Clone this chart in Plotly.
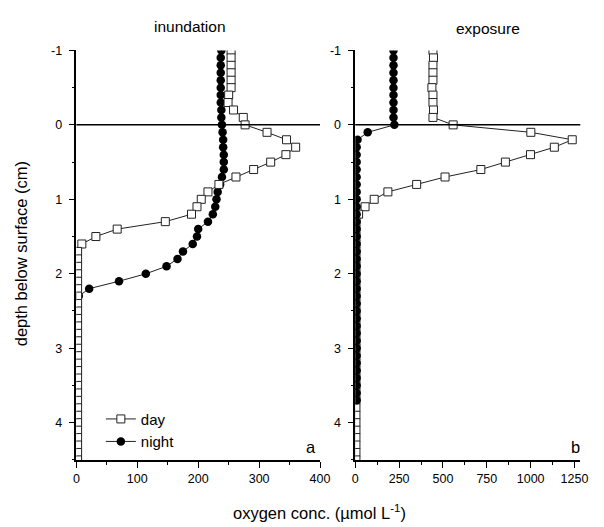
import plotly.graph_objects as go

# ---------------- data ----------------
DEPTH = [-1.0, -0.9, -0.8, -0.7, -0.6, -0.5, -0.4, -0.3, -0.2, -0.1,
         0.0, 0.1, 0.2, 0.3, 0.4, 0.5, 0.6, 0.7, 0.8, 0.9,
         1.0, 1.1, 1.2, 1.3, 1.4, 1.5, 1.6, 1.7, 1.8, 1.9,
         2.0, 2.1, 2.2, 2.3, 2.4, 2.5, 2.6, 2.7, 2.8, 2.9,
         3.0, 3.1, 3.2, 3.3, 3.4, 3.5, 3.6, 3.7, 3.8, 3.9,
         4.0, 4.1, 4.2, 4.3, 4.4, 4.5]

# inundation (panel a)
inund_day = [254, 254, 254, 254, 254, 254, 250, 249, 258, 274,
             277, 313, 345, 360, 344, 319, 291, 262, 234, 216,
             205, 198, 189, 146, 67, 32, 9, 2, 2, 2,
             2, 2, 2, 2, 2, 2, 2, 2, 2, 2,
             2, 2, 2, 2, 2, 2, 2, 2, 2, 2,
             2, 2, 2, 2, 2, 2]
inund_night = [238, 237, 237, 237, 237, 237, 237, 237, 238, 238,
               239, 240, 241, 241, 242, 242, 242, 239, 236, 232,
               230, 228, 224, 216, 200, 198, 191, 175, 166, 148,
               114, 70, 21, 4]

# exposure (panel b)
expo_day = [443, 446, 443, 443, 443, 437, 443, 443, 446, 443,
            558, 1001, 1237, 1135, 999, 856, 716, 512, 350, 186,
            108, 56, 19, 4, 4, 4, 4, 4, 4, 4,
            4, 4, 4, 4, 4, 4, 4, 4, 4, 4,
            4, 4, 4, 4, 4, 4, 4, 4, 4, 4,
            4, 4, 4, 4, 4, 4]
expo_night = [218, 218, 218, 218, 218, 218, 218, 218, 218, 218,
              223, 71, 13, 8, 8, 8, 8, 8, 8, 8,
              8, 8, 8, 8, 8, 8, 8, 8, 8, 8,
              8, 8, 8, 8, 8, 8, 8, 8, 8, 8,
              8, 8, 8, 8, 8, 8, 8, 8]

Y_TICKS = [-1, 0, 1, 2, 3, 4]
Y_TICKTEXT = ["-1", "0", "1", "2", "3", "4"]

# ---------------- style ----------------
FONT = "Liberation Sans, Arial, sans-serif"
W, H = 604, 527

def px_x(p):
    return p / W

def px_y(p):
    return 1 - p / H

day_marker = dict(symbol="square", size=8, color="white",
                  line=dict(color="#222", width=1))
night_marker = dict(symbol="circle", size=8.5, color="black",
                    line=dict(color="black", width=0))
line_style = dict(color="#222", width=1)

fig = go.Figure()

# panel a: night first, day on top
fig.add_trace(go.Scatter(x=inund_night, y=DEPTH[:len(inund_night)],
                         mode="lines+markers", name="night",
                         marker=night_marker, line=line_style,
                         xaxis="x", yaxis="y", legendrank=2))
fig.add_trace(go.Scatter(x=inund_day, y=DEPTH[:len(inund_day)],
                         mode="lines+markers", name="day",
                         marker=day_marker, line=line_style,
                         xaxis="x", yaxis="y", legendrank=1))
# panel b: day first, night on top
fig.add_trace(go.Scatter(x=expo_day, y=DEPTH[:len(expo_day)],
                         mode="lines+markers", name="day",
                         marker=day_marker, line=line_style,
                         xaxis="x2", yaxis="y2", showlegend=False))
fig.add_trace(go.Scatter(x=expo_night, y=DEPTH[:len(expo_night)],
                         mode="lines+markers", name="night",
                         marker=night_marker, line=line_style,
                         xaxis="x2", yaxis="y2", showlegend=False))

ydom = [px_y(459), px_y(44)]
TICKFONT = dict(size=12.5, color="black", family=FONT)
common_x = dict(showline=True, linecolor="black", linewidth=1.5,
                ticks="outside", ticklen=6, tickwidth=1.2, tickcolor="black",
                showgrid=False, zeroline=False, tickfont=TICKFONT)
common_y = dict(showline=True, linecolor="black", linewidth=1.5,
                ticks="outside", ticklen=6, tickwidth=1.2, tickcolor="black",
                showgrid=False, zeroline=False,
                range=[4.5, -1], tickvals=Y_TICKS, ticktext=Y_TICKTEXT,
                minor=dict(dtick=0.5, ticklen=3, tickwidth=1.2,
                           tickcolor="black", ticks="outside", showgrid=False),
                tickfont=TICKFONT, domain=ydom, ticklabelstandoff=4)

fig.update_layout(
    width=W, height=H,
    margin=dict(l=0, r=0, t=0, b=0),
    paper_bgcolor="white", plot_bgcolor="white",
    font=dict(family=FONT, color="black"),
    xaxis=dict(common_x, domain=[px_x(75), px_x(324)], range=[0, 400],
               dtick=100, tick0=0, anchor="y",
               minor=dict(dtick=50, ticklen=3, tickwidth=1.2,
                          tickcolor="black", ticks="outside", showgrid=False)),
    yaxis=dict(common_y, anchor="x"),
    xaxis2=dict(common_x, domain=[px_x(360), px_x(590)], range=[0, 1283],
                dtick=250, tick0=0, anchor="y2",
                minor=dict(dtick=125, ticklen=3, tickwidth=1.2,
                           tickcolor="black", ticks="outside", showgrid=False)),
    yaxis2=dict(common_y, anchor="x2"),
    showlegend=True,
    legend=dict(x=px_x(100), y=px_y(401), xanchor="left", yanchor="top",
                bgcolor="rgba(0,0,0,0)", borderwidth=0,
                font=dict(size=15, family=FONT, color="black")),
    shapes=[
        dict(type="line", xref="x domain", yref="y", x0=0, x1=1, y0=0, y1=0,
             line=dict(color="black", width=1.5)),
        dict(type="line", xref="x2 domain", yref="y2", x0=0, x1=1, y0=0, y1=0,
             line=dict(color="black", width=1.5)),
    ],
    annotations=[
        dict(text="inundation", x=px_x(191), y=px_y(20), xref="paper", yref="paper",
             showarrow=False, xanchor="center", yanchor="middle",
             font=dict(size=15.5, family=FONT)),
        dict(text="exposure", x=px_x(496), y=px_y(22), xref="paper", yref="paper",
             showarrow=False, xanchor="center", yanchor="middle",
             font=dict(size=15.5, family=FONT)),
        dict(text="a", x=px_x(315), y=px_y(446), xref="paper", yref="paper",
             showarrow=False, xanchor="center", yanchor="middle",
             font=dict(size=16.5, family=FONT)),
        dict(text="b", x=px_x(585), y=px_y(446), xref="paper", yref="paper",
             showarrow=False, xanchor="center", yanchor="middle",
             font=dict(size=16.5, family=FONT)),
        dict(text="oxygen conc. (µmol L<sup>-1</sup>)", x=px_x(323), y=px_y(512),
             xref="paper", yref="paper", showarrow=False,
             xanchor="center", yanchor="middle", font=dict(size=16.5, family=FONT)),
        dict(text="depth below surface (cm)", x=px_x(18), y=px_y(250),
             xref="paper", yref="paper", showarrow=False, textangle=-90,
             xanchor="center", yanchor="middle", font=dict(size=16.5, family=FONT)),
    ],
)

fig.write_html("out.html")
